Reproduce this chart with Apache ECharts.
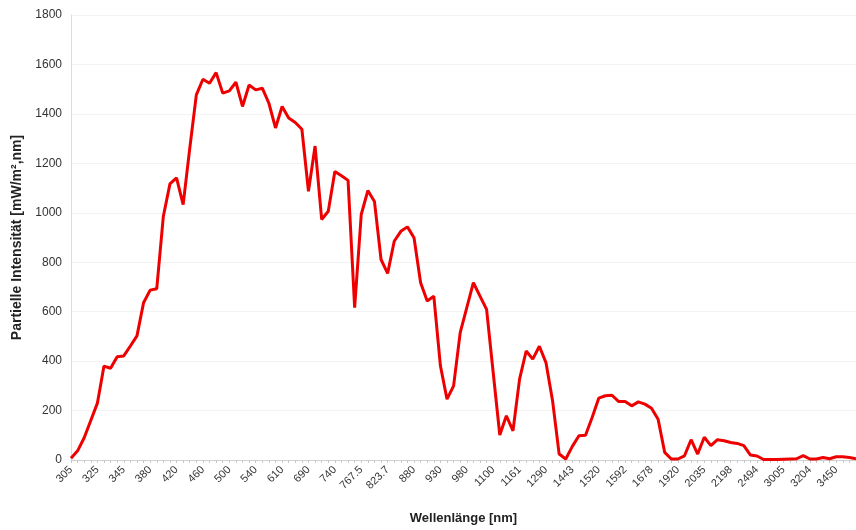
<!DOCTYPE html>
<html>
<head>
<meta charset="utf-8">
<script src="https://cdn.jsdelivr.net/npm/echarts@6/dist/echarts.min.js"></script>
<style>
  html, body { margin: 0; padding: 0; background: #fff; }
  #chart { width: 856px; height: 530px; }
</style>
</head>
<body>
<div id="chart"></div>
<script>
// Wavelengths (nm) of the spectral table
const wavelengths = [
  '305', '310', '315', '320', '325', '330', '335', '340', '345', '350',
  '360', '370', '380', '390', '400', '410', '420', '430', '440', '450',
  '460', '470', '480', '490', '500', '510', '520', '530', '540', '550',
  '570', '590', '610', '630', '650', '670', '690', '710', '718', '724.4',
  '740', '752.5', '757.5', '762.5', '767.5', '780', '800', '816', '823.7', '831.5',
  '840', '860', '880', '905', '915', '925', '930', '937', '948', '965',
  '980', '993.5', '1040', '1070', '1100', '1120', '1130', '1137', '1161', '1180',
  '1200', '1235', '1290', '1320', '1350', '1395', '1443', '1462.5', '1477', '1497',
  '1520', '1539', '1558', '1578', '1592', '1610', '1630', '1646', '1678', '1740',
  '1800', '1860', '1920', '1960', '1985', '2005', '2035', '2065', '2100', '2148',
  '2198', '2270', '2360', '2450', '2494', '2537', '2941', '2973', '3005', '3056',
  '3132', '3156', '3204', '3245', '3317', '3344', '3450', '3573', '3765', '4045'
];

// Partial intensity per band (mW/m².nm)
const intensity = [
  7, 37, 90, 160, 230, 380, 371, 418, 421, 461,
  502, 636, 687, 693, 986, 1117, 1141, 1033, 1260, 1477,
  1540, 1524, 1567, 1484, 1493, 1528, 1430, 1517, 1497, 1504,
  1443, 1343, 1430, 1383, 1365, 1338, 1087, 1270, 973, 1006,
  1167, 1150, 1131, 616, 993, 1090, 1046, 811, 755, 885,
  925, 943, 899, 717, 643, 663, 381, 246, 300, 515,
  616, 717, 663, 609, 354, 101, 179, 118, 327, 441,
  408, 460, 394, 240, 24, 4, 55, 98, 100, 172,
  250, 260, 262, 237, 237, 219, 235, 226, 209, 165,
  31, 4, 4, 17, 82, 24, 92, 58, 82, 78,
  71, 67, 58, 20, 16, 2, 2, 2, 3, 4,
  5, 18, 4, 4, 10, 5, 13, 13, 10, 5
];

// Value axis ticks
const yTicks = [0, 200, 400, 600, 800, 1000, 1200, 1400, 1600, 1800];

const chart = echarts.init(document.getElementById('chart'), null, { renderer: 'canvas' });

chart.setOption({
  animation: false,
  backgroundColor: '#ffffff',
  textStyle: { fontFamily: 'Liberation Sans, Arial, sans-serif' },
  grid: { left: 71, right: -8, top: 15, bottom: 69, containLabel: false },
  xAxis: {
    type: 'category',
    data: wavelengths,
    boundaryGap: false,
    name: 'Wellenlänge [nm]',
    nameLocation: 'middle',
    nameGap: 52,
    nameTextStyle: { fontSize: 13, fontWeight: 'bold', color: '#222' },
    axisLine: { show: true, lineStyle: { color: '#d0d0d0', width: 1 } },
    axisTick: { show: true, interval: 0, length: 3, lineStyle: { color: '#c8c8c8' } },
    axisLabel: {
      interval: 3,
      rotate: 45,
      fontSize: 11,
      color: '#333',
      margin: 8
    },
    splitLine: { show: false }
  },
  yAxis: {
    type: 'value',
    min: yTicks[0],
    max: yTicks[yTicks.length - 1],
    interval: yTicks[1] - yTicks[0],
    name: 'Partielle Intensität [mW/m²,nm]',
    nameLocation: 'middle',
    nameGap: 46,
    nameRotate: 90,
    nameTextStyle: { fontSize: 14, fontWeight: 'bold', color: '#222' },
    axisLine: { show: true, lineStyle: { color: '#dcdcdc', width: 1 } },
    axisTick: { show: false },
    axisLabel: {
      fontSize: 12,
      color: '#333',
      margin: 9,
      formatter: (v) => String(v)
    },
    splitLine: { show: true, lineStyle: { color: '#f3f3f3', width: 1 } }
  },
  series: [{
    type: 'line',
    data: intensity,
    showSymbol: false,
    smooth: false,
    lineStyle: { color: '#ee0000', width: 3 },
    itemStyle: { color: '#ee0000' }
  }]
});
</script>
</body>
</html>
